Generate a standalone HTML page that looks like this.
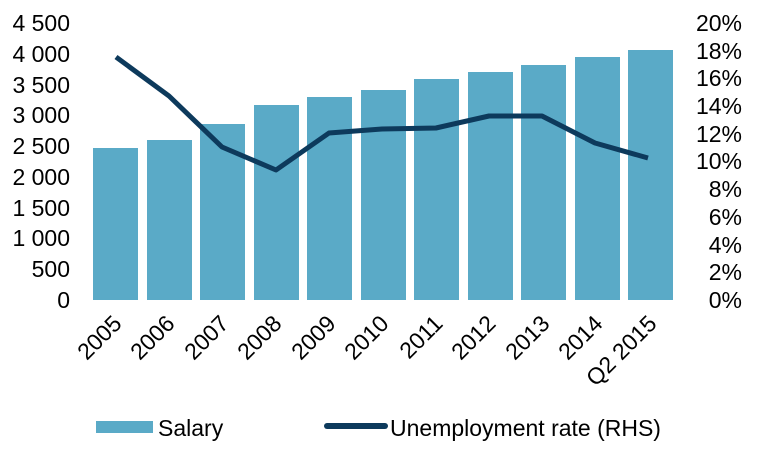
<!DOCTYPE html>
<html><head><style>body{margin:0;background:#fff}</style></head><body>
<svg width="765" height="451" xmlns="http://www.w3.org/2000/svg" font-family="Liberation Sans, sans-serif" font-size="23">
<g fill="#5aaac7">
<rect x="93" y="148" width="45" height="152"/>
<rect x="147" y="140" width="45" height="160"/>
<rect x="200" y="124" width="45" height="176"/>
<rect x="254" y="105" width="45" height="195"/>
<rect x="307" y="97" width="45" height="203"/>
<rect x="361" y="90" width="45" height="210"/>
<rect x="414" y="79" width="45" height="221"/>
<rect x="468" y="72" width="45" height="228"/>
<rect x="521" y="65" width="45" height="235"/>
<rect x="575" y="57" width="45" height="243"/>
<rect x="628" y="50" width="45" height="250"/>
</g>
<polyline fill="none" stroke="#0d3a5c" stroke-width="5" stroke-linejoin="round" points="116,57 169,96 222,147 276,170 329,133 382,129 436,128 489,116 542,116 595,143 648,158"/>
<g text-anchor="end">
<text x="70" y="308">0</text><text x="70" y="277">500</text><text x="70" y="246">1 000</text><text x="70" y="216">1 500</text><text x="70" y="185">2 000</text><text x="70" y="154">2 500</text><text x="70" y="123">3 000</text><text x="70" y="93">3 500</text><text x="70" y="62">4 000</text><text x="70" y="31">4 500</text>
</g>
<g text-anchor="end">
<text x="742" y="308">0%</text><text x="742" y="280">2%</text><text x="742" y="253">4%</text><text x="742" y="225">6%</text><text x="742" y="197">8%</text><text x="742" y="169">10%</text><text x="742" y="142">12%</text><text x="742" y="114">14%</text><text x="742" y="86">16%</text><text x="742" y="59">18%</text><text x="742" y="31">20%</text>
</g>
<g text-anchor="end">
<text transform="translate(123,325) rotate(-45)">2005</text>
<text transform="translate(176,325) rotate(-45)">2006</text>
<text transform="translate(230,325) rotate(-45)">2007</text>
<text transform="translate(283,325) rotate(-45)">2008</text>
<text transform="translate(337,325) rotate(-45)">2009</text>
<text transform="translate(390,325) rotate(-45)">2010</text>
<text transform="translate(444,325) rotate(-45)">2011</text>
<text transform="translate(497,325) rotate(-45)">2012</text>
<text transform="translate(551,325) rotate(-45)">2013</text>
<text transform="translate(604,325) rotate(-45)">2014</text>
<text transform="translate(658,325) rotate(-45)">Q2 2015</text>
</g>
<rect x="96" y="421" width="57" height="12" fill="#5aaac7"/>
<text x="158" y="436">Salary</text>
<line x1="327" y1="426" x2="385" y2="426" stroke="#0d3a5c" stroke-width="6" stroke-linecap="round"/>
<text x="390" y="436">Unemployment rate (RHS)</text>
</svg>
</body></html>
